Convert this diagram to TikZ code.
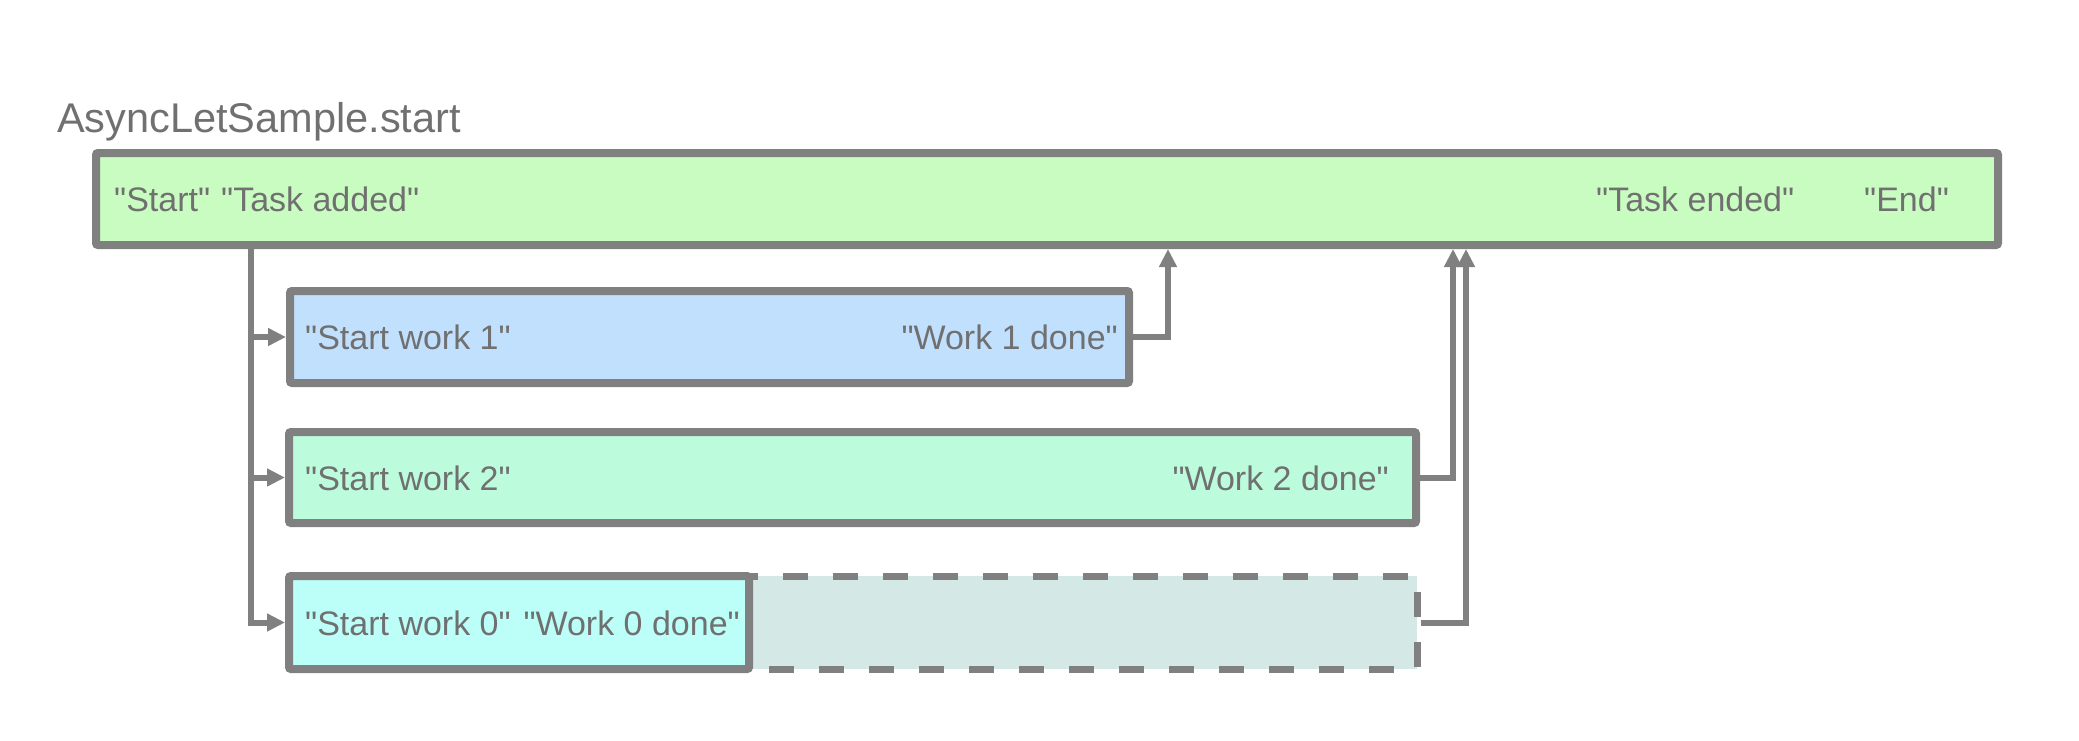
\documentclass[tikz,border=0pt]{standalone}
\usepackage{fontspec}
\setmainfont{Liberation Sans}[Ligatures=TeXOff]
\usetikzlibrary{arrows.meta}
\definecolor{edge}{HTML}{808080}
\definecolor{txt}{HTML}{707070}
\definecolor{mainfill}{HTML}{C8FCC0}
\definecolor{onefill}{HTML}{C0E0FE}
\definecolor{twofill}{HTML}{BCFCDC}
\definecolor{zerofill}{HTML}{BCFEF8}
\definecolor{ghostfill}{HTML}{D4E8E6}
\begin{document}
\begin{tikzpicture}[x=1pt,y=-1pt,
  box/.style={draw=edge,line width=8pt,rounded corners=2pt,inner sep=0pt,outer sep=4pt},
  ghost/.style={draw=edge,line width=7pt,fill=ghostfill,inner sep=0pt,outer sep=3.5pt,
    dash pattern=on 25pt off 25pt,dash phase=30pt},
  lbl/.style={font=\fontsize{34}{40}\selectfont,text=txt,inner sep=0pt,anchor=base west},
  lblr/.style={lbl,anchor=base east},
  conn/.style={draw=edge,line width=6pt,-{Triangle[length=18pt,width=17pt]}},
]
\useasboundingbox (0,0) rectangle (2079,741);

\node[box,fill=mainfill,minimum width=1902pt,minimum height=92pt] (main) at (1047,199) {};
\node[ghost,minimum width=668pt,minimum height=93pt] (w0x) at (1083,622.5) {};
\node[box,fill=onefill,minimum width=839pt,minimum height=92pt] (w1) at (709.5,337) {};
\node[box,fill=twofill,minimum width=1127pt,minimum height=91pt] (w2) at (852.5,477.5) {};
\node[box,fill=zerofill,minimum width=460pt,minimum height=93pt] (w0) at (519,622.5) {};

\node[lbl,font=\fontsize{41.5}{48}\selectfont] (title) at (57,132) {AsyncLetSample.start};
\node[lbl] (s) at (114,211) {"Start"};
\node[lbl] (ta) at (221,211) {"Task added"};
\node[lbl] (te) at (1596,211) {"Task ended"};
\node[lbl] (end) at (1864,211) {"End"};
\node[lbl] (sw1) at (305,349) {"Start work 1"};
\node[lblr] (wd1) at (1118,349) {"Work 1 done"};
\node[lbl] (sw2) at (305,490) {"Start work 2"};
\node[lblr] (wd2) at (1389,490) {"Work 2 done"};
\node[lbl] (sw0) at (305,635) {"Start work 0"};
\node[lblr] (wd0) at (740,635) {"Work 0 done"};

\coordinate (lx) at (251,0);
\coordinate (r1) at (1168,0);
\coordinate (r2) at (1453,0);
\coordinate (r3) at (1466,0);
\draw[conn] (lx |- main.south) |- (w0.west);
\draw[conn] (lx |- w1.west) -- (w1.west);
\draw[conn] (lx |- w2.west) -- (w2.west);
\draw[conn] (w1.east) -| (r1 |- main.south);
\draw[conn] (w2.east) -| (r2 |- main.south);
\draw[conn] (w0x.east) -| (r3 |- main.south);
\end{tikzpicture}
\end{document}
